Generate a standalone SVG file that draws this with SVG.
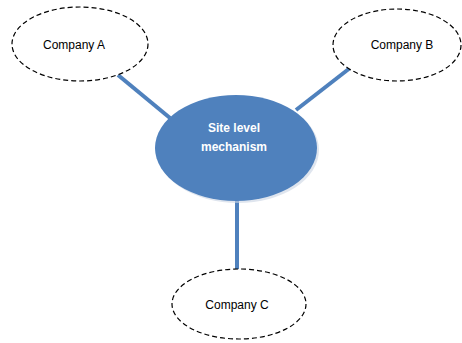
<svg xmlns="http://www.w3.org/2000/svg" width="462" height="343" viewBox="0 0 462 343">
<style>
.co{fill:#ffffff;stroke:#000000;stroke-width:1.2;stroke-dasharray:5 3}
.lbl{font-family:"Liberation Sans",Arial,sans-serif;font-size:12px;fill:#000000;text-anchor:middle}
.cl{font-family:"Liberation Sans",Arial,sans-serif;font-size:12px;font-weight:bold;fill:#ffffff;text-anchor:middle}
.ln{stroke:#4F81BD;stroke-width:4;fill:none}
</style>
<rect width="462" height="343" fill="#ffffff"/>
<g id="connectors">
<line class="ln" x1="118" y1="75" x2="170" y2="118"/>
<line class="ln" x1="350" y1="68" x2="296" y2="110"/>
<line class="ln" x1="237" y1="198" x2="237" y2="269"/>
</g>
<g id="center">
<ellipse cx="238" cy="150" rx="81" ry="53" fill="#c9d3e3" opacity="0.6"/>
<ellipse cx="236" cy="148" rx="81" ry="53" fill="#4F81BD"/>
<text class="cl" x="234" y="132">Site level</text>
<text class="cl" x="234" y="151">mechanism</text>
</g>
<g id="companyA">
<ellipse class="co" cx="80" cy="44" rx="68" ry="37"/>
<text class="lbl" x="74" y="49">Company A</text>
</g>
<g id="companyB">
<ellipse class="co" cx="397" cy="45" rx="64" ry="36"/>
<text class="lbl" x="402" y="49">Company B</text>
</g>
<g id="companyC">
<ellipse class="co" cx="239" cy="304" rx="67" ry="35"/>
<text class="lbl" x="237" y="309">Company C</text>
</g>
</svg>
